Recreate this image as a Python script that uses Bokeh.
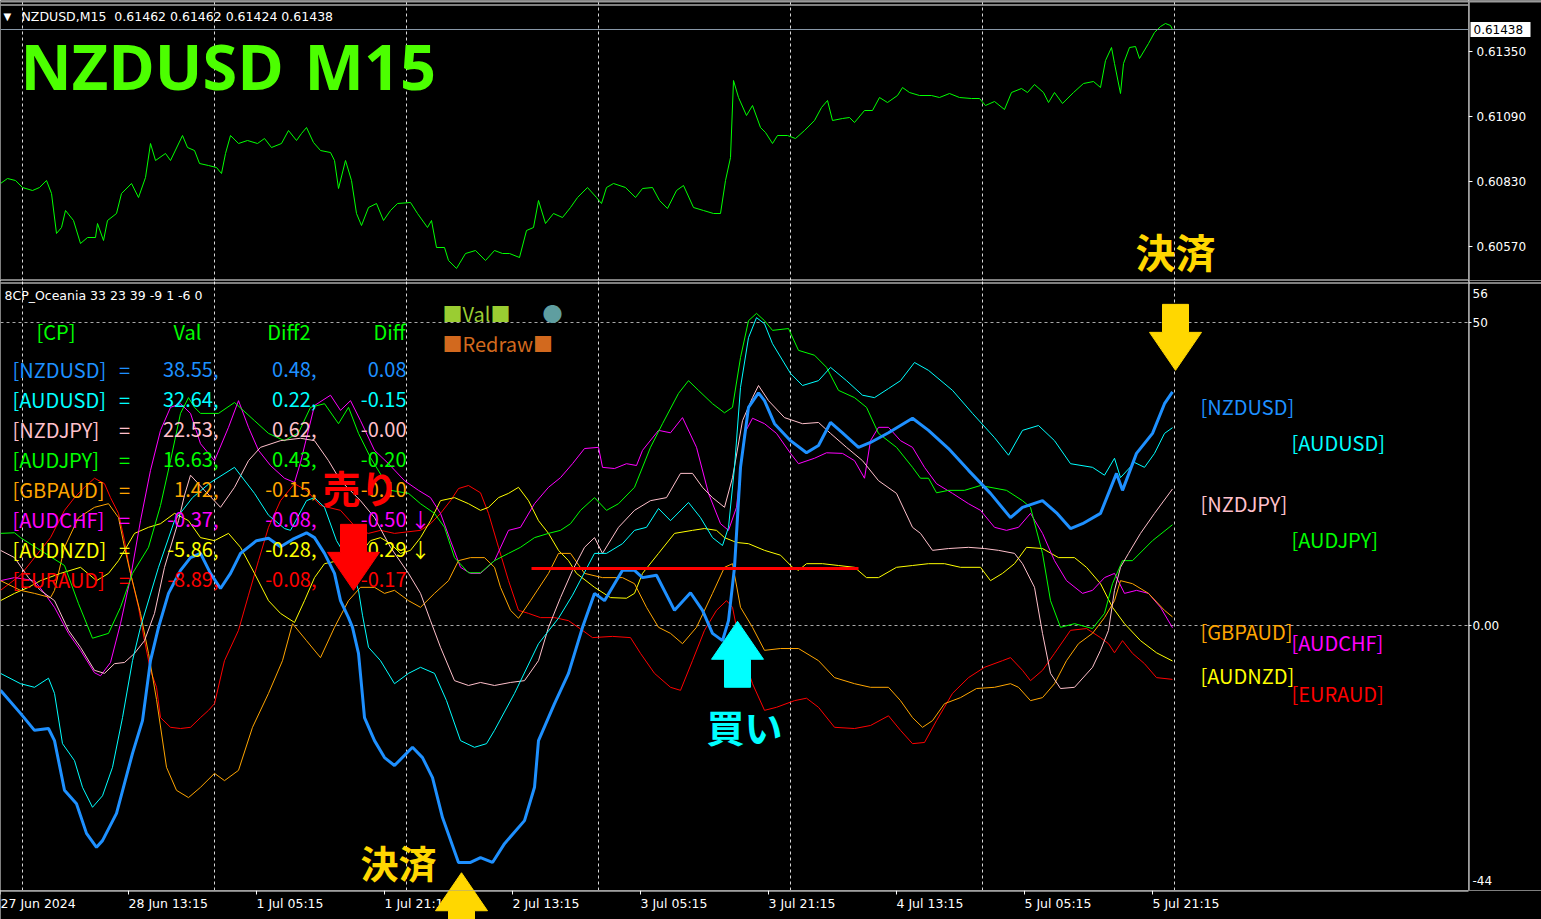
from bokeh.plotting import figure
from bokeh.layouts import column, row
from bokeh.models import Range1d, FixedTicker, Label, Span, Grid
from bokeh.core.properties import value
from bokeh.embed import file_html
from bokeh.resources import INLINE

# ---------------------------------------------------------------- data
SYMBOLS = ["NZDUSD", "AUDUSD", "NZDJPY", "AUDJPY", "GBPAUD", "AUDCHF", "AUDNZD", "EURAUD"]
COLORS = ["#1E90FF", "#00FFFF", "#FFC0CB", "#00FF00", "#FFA500", "#FF00FF", "#FFFF00", "#FF0000"]
VAL = [38.55, 32.64, 22.53, 16.63, 1.42, -0.37, -5.86, -8.89]
DIFF2 = [0.48, 0.22, 0.62, 0.43, -0.15, -0.08, -0.28, -0.08]
DIFF = [0.08, -0.15, -0.00, -0.20, -0.10, -0.50, -0.29, -0.17]
DIFF_MARK = ["", "", "", "", "", "↓", "↓", ""]

TICK_BARS = [0, 64, 128, 192, 256, 320, 384, 448, 512, 576]
TICK_LABELS = ["27 Jun 2024", "28 Jun 13:15", "1 Jul 05:15", "1 Jul 21:15", "2 Jul 13:15",
               "3 Jul 05:15", "3 Jul 21:15", "4 Jul 13:15", "5 Jul 05:15", "5 Jul 21:15"]
DAY_BARS = [11, 107, 203, 299, 395, 491, 587]
PRICE_TICKS = [0.61350, 0.61090, 0.60830, 0.60570]
IND_TICKS = [50, 0]
IND_TICK_LABELS = ["50", "0.00"]
IND_MAX_LABEL, IND_MIN_LABEL = 56, -44
OHLC = [0.61462, 0.61462, 0.61424, 0.61438]

PRICE = [(0, 0.60822), (3.5, 0.60842), (7.5, 0.60834), (11, 0.60806), (16, 0.60794), (19.5, 0.60806),
         (23, 0.60834), (25.5, 0.60782), (28, 0.60622), (30.5, 0.60646), (32.5, 0.60714), (36.5, 0.60674),
         (40, 0.60582), (43.5, 0.60606), (47.5, 0.60606), (48.5, 0.60662), (51.5, 0.60594), (53.5, 0.60674),
         (58, 0.60702), (60.5, 0.60782), (65.5, 0.60822), (69, 0.60766), (72.5, 0.60846), (75, 0.60982),
         (77.5, 0.60914), (82.5, 0.60942), (85, 0.60914), (91, 0.61014), (93.5, 0.60966), (97, 0.60954),
         (99.5, 0.60902), (104, 0.60894), (108, 0.60886), (110.5, 0.60862), (112.5, 0.60942), (115, 0.61014),
         (119, 0.60982), (123.5, 0.60994), (128.5, 0.60982), (132, 0.61002), (135.5, 0.60966), (140.5, 0.60982),
         (144, 0.61034), (148, 0.60994), (150.5, 0.61022), (153, 0.61046), (156.5, 0.60986), (160, 0.60954),
         (165, 0.60946), (167, 0.60914), (169, 0.60802), (172.5, 0.60914), (175.5, 0.60834), (178, 0.60702),
         (180.5, 0.60654), (184, 0.60726), (188, 0.60742), (191.5, 0.60674), (195, 0.60714), (198.5, 0.60742),
         (205, 0.60746), (208.5, 0.60702), (213.5, 0.60646), (215.5, 0.60674), (218, 0.60566), (222, 0.60566),
         (224, 0.60514), (228, 0.60482), (232.5, 0.60542), (237.5, 0.60554), (242.5, 0.60514), (247, 0.60554),
         (251, 0.60542), (254.5, 0.60542), (259.5, 0.60526), (263, 0.60634), (266.5, 0.60646), (269, 0.60754),
         (272.5, 0.60662), (276.5, 0.60702), (281, 0.60686), (285, 0.60726), (288.5, 0.60766), (293.5, 0.60806),
         (298, 0.60766), (300.5, 0.60742), (303, 0.60806), (306.5, 0.60822), (312.5, 0.60806), (317.5, 0.60766),
         (321, 0.60802), (326, 0.60806), (329.5, 0.60754), (333.5, 0.60722), (338, 0.60794), (341.5, 0.60814),
         (346.5, 0.60726), (351.5, 0.60714), (356.5, 0.60702), (360, 0.60702), (362.5, 0.60834), (365, 0.60926),
         (366.5, 0.61234), (369, 0.61166), (373, 0.61094), (376, 0.61134), (380, 0.61046), (382.5, 0.61026),
         (386, 0.60982), (388.5, 0.61014), (393.5, 0.61014), (397.5, 0.61002), (402, 0.61034), (407, 0.61074),
         (410.5, 0.61126), (413.5, 0.61154), (416, 0.61074), (421, 0.61082), (424.5, 0.61086), (427, 0.61066),
         (432, 0.61114), (436, 0.61114), (439.5, 0.61166), (443.5, 0.61146), (448.5, 0.61174), (451, 0.61206),
         (454.5, 0.61186), (459.5, 0.61174), (465.5, 0.61174), (469.5, 0.61166), (474.5, 0.61182), (479.5, 0.61166),
         (485.5, 0.61162), (489.5, 0.61162), (492.5, 0.61134), (497, 0.61150), (502, 0.61118), (505.5, 0.61186),
         (510.5, 0.61202), (513.5, 0.61186), (517, 0.61218), (521.5, 0.61186), (524, 0.61146), (527, 0.61186),
         (531, 0.61142), (536.5, 0.61186), (541.5, 0.61222), (546.5, 0.61230), (550, 0.61206), (552.5, 0.61314),
         (555.5, 0.61366), (557, 0.61302), (560, 0.61182), (561.5, 0.61302), (564.5, 0.61366), (567.5, 0.61370),
         (569.5, 0.61322), (574, 0.61382), (577, 0.61426), (580, 0.61450), (582.5, 0.61462), (585, 0.61454),
         (586, 0.61438)]

NZDUSD = [(0, -10.7), (10, -14.5), (17, -17.3), (24, -17.0), (27, -19.0), (32, -27.2), (38, -29.4), (43, -34.3),
          (48, -36.6), (51, -35.5), (58, -31.0), (66, -21.1), (71, -15.7), (75, -5.8), (79, -0.3), (84, 5.3),
          (90, 9.1), (95, 11.2), (100, 11.9), (105, 8.6), (110, 6.1), (115, 8.6), (120, 11.9), (128, 14.0),
          (134, 14.4), (140, 13.0), (146, 14.2), (153, 15.3), (157, 14.5), (162, 11.9), (167, 8.6), (170, 4.1),
          (174, 1.3), (176, -0.3), (179, -4.6), (181, -11.6), (182, -15.2), (187, -19.0), (192, -21.8),
          (197, -23.1), (206, -20.1), (211, -21.8), (216, -25.1), (221, -31.7), (229, -39.1), (235, -39.1),
          (240, -38.3), (246, -39.1), (252, -36.0), (262, -32.2), (267, -26.7), (269, -19.0), (277, -12.9),
          (284, -7.9), (291, -0.3), (297, 5.3), (302, 4.1), (311, 9.1), (317, 9.1), (321, 7.9), (328, 8.3),
          (337, 2.5), (345, 5.4), (351, 2.5), (356, -1.3), (361, -2.5), (364, 0.8), (367, 9.6), (370, 26.1),
          (374, 36.0), (379, 38.4), (382, 37.1), (387, 33.3), (395, 30.5), (403, 28.5), (409, 29.7), (415, 33.5),
          (421, 31.8), (429, 29.4), (435, 30.2), (444, 31.8), (456, 34.2), (464, 32.2), (474, 29.2), (484, 25.6),
          (495, 21.8), (505, 17.8), (511, 19.5), (521, 20.6), (528, 18.6), (535, 16.0), (541, 16.8), (550, 18.5),
          (554, 21.8), (558, 25.1), (561, 22.3), (568, 28.4), (576, 31.7), (582, 36.6), (586, 38.55)]

AUDUSD = [(0, -7.9), (10, -9.6), (17, -10.2), (24, -8.7), (27, -11.2), (31, -19.5), (37, -22.3), (41, -26.7),
          (46, -30.0), (51, -28.1), (56, -23.4), (61, -15.2), (66, -5.8), (70, -0.3), (79, 9.6), (87, 17.3),
          (96, 21.1), (105, 23.6), (117, 26.1), (127, 21.8), (134, 18.2), (142, 16.0), (145, 15.7), (153, 20.6),
          (157, 21.1), (162, 19.5), (168, 14.0), (174, 10.7), (179, 5.8), (181, 1.7), (184, -3.6), (190, -5.8),
          (197, -9.6), (204, -7.9), (210, -6.9), (217, -7.9), (223, -12.4), (230, -19.0), (237, -20.1),
          (243, -19.5), (247, -17.3), (257, -11.2), (269, -3.0), (279, 1.2), (286, 5.0), (297, 11.9), (303, 11.9),
          (311, 13.5), (317, 15.7), (323, 16.2), (329, 19.3), (335, 17.3), (344, 20.3), (350, 17.8), (356, 14.5),
          (361, 13.2), (364, 16.2), (367, 26.1), (370, 39.3), (374, 47.5), (378, 50.8), (382, 49.8), (386, 46.5),
          (395, 41.6), (401, 39.6), (409, 40.4), (415, 42.6), (423, 40.4), (431, 38.0), (437, 37.6), (444, 39.1),
          (450, 40.4), (457, 43.4), (464, 42.1), (476, 38.8), (486, 35.0), (497, 31.0), (504, 28.1), (511, 32.2),
          (519, 33.0), (527, 30.5), (535, 26.7), (546, 26.1), (552, 24.8), (557, 27.6), (560, 24.4), (567, 26.9),
          (572, 26.1), (577, 28.4), (582, 31.7), (586, 32.64)]

NZDJPY = [(0, 12.4), (7, 11.2), (14, 7.9), (20, 5.8), (27, 4.1), (34, -0.8), (40, -3.6), (47, -7.4), (52, -7.9),
          (57, -6.3), (62, -6.1), (67, -4.6), (72, -2.5), (77, 2.0), (82, 9.6), (89, 17.3), (92, 21.5), (95, 24.8),
          (102, 22.3), (110, 19.5), (117, 22.8), (124, 27.2), (130, 29.4), (140, 30.5), (150, 30.9), (157, 30.5),
          (164, 27.2), (170, 23.9), (180, 20.6), (187, 17.8), (195, 12.9), (204, 8.6), (210, 5.3), (215, 0.8),
          (220, -3.6), (227, -9.1), (234, -9.9), (240, -9.4), (247, -9.9), (255, -9.4), (262, -9.1), (269, -5.8),
          (274, -0.3), (280, 4.6), (286, 9.1), (292, 12.9), (297, 14.5), (301, 11.9), (309, 16.2), (317, 19.0),
          (325, 20.6), (333, 21.1), (340, 25.1), (346, 25.1), (351, 22.8), (356, 21.1), (362, 19.5), (366, 24.4),
          (371, 33.8), (376, 37.6), (379, 39.6), (384, 37.1), (392, 34.3), (401, 33.3), (409, 33.5), (415, 31.7),
          (423, 29.4), (431, 27.2), (439, 23.9), (448, 21.8), (456, 16.2), (460, 15.2), (466, 12.4), (474, 12.7),
          (484, 12.9), (492, 12.7), (499, 12.4), (507, 11.9), (511, 10.2), (517, 6.3), (521, -1.3), (525, -7.9),
          (530, -10.4), (537, -10.2), (546, -6.9), (550, -4.1), (554, -0.8), (557, 5.8), (560, 9.6), (564, 11.9),
          (570, 15.2), (577, 18.5), (586, 22.53)]

AUDJPY = [(0, 15.2), (7, 15.3), (10, 14.5), (20, 12.4), (32, 9.9), (39, 3.6), (46, -2.1), (54, -1.3), (60, 3.0),
          (66, 8.6), (74, 12.9), (80, 19.8), (85, 27.2), (90, 35.0), (94, 37.6), (97, 36.0), (100, 35.0),
          (109, 35.0), (117, 36.8), (127, 33.8), (134, 31.7), (142, 30.5), (149, 31.8), (155, 36.0), (162, 36.6),
          (169, 33.3), (174, 36.0), (179, 31.7), (185, 27.7), (195, 22.3), (204, 21.8), (210, 20.1), (217, 18.5),
          (222, 16.2), (227, 11.2), (234, 8.7), (240, 8.7), (247, 10.7), (254, 11.9), (260, 12.9), (267, 14.5),
          (274, 15.2), (280, 15.7), (285, 16.8), (290, 19.0), (297, 21.1), (303, 19.0), (309, 20.1), (317, 22.8),
          (325, 29.4), (331, 33.3), (339, 38.3), (344, 40.4), (349, 38.8), (356, 36.6), (362, 35.1), (366, 36.0),
          (370, 44.2), (374, 50.3), (378, 51.5), (382, 50.3), (386, 48.7), (394, 49.0), (399, 45.4), (407, 44.6),
          (413, 42.6), (419, 38.8), (427, 37.6), (433, 36.0), (439, 31.7), (448, 29.4), (456, 26.1), (460, 24.3),
          (464, 24.3), (468, 21.9), (474, 22.3), (482, 22.3), (490, 23.1), (503, 22.3), (511, 20.6), (515, 19.5),
          (521, 11.9), (525, 4.1), (530, -0.3), (537, 0.3), (546, -0.5), (552, 2.0), (556, 6.9), (561, 10.7),
          (566, 10.7), (576, 14.0), (586, 16.63)]

GBPAUD = [(0, 7.4), (10, 5.8), (17, 5.3), (25, 4.6), (27, 5.8), (32, 12.9), (39, 17.8), (47, 19.5), (54, 20.1),
          (59, 17.8), (62, 12.9), (65, 8.6), (70, 2.0), (74, -4.6), (78, -12.2), (83, -23.4), (88, -27.2),
          (94, -28.4), (100, -26.7), (107, -24.4), (112, -25.6), (119, -23.9), (126, -16.8), (134, -11.2),
          (141, -5.8), (146, 0.3), (153, -2.5), (160, -5.3), (167, -0.3), (174, 4.1), (180, 6.3), (187, 6.3),
          (192, 5.3), (197, 5.8), (204, 4.1), (210, 3.0), (217, 5.3), (224, 7.4), (229, 10.7), (235, 11.2),
          (242, 11.2), (247, 9.6), (250, 6.3), (255, 2.5), (259, 1.2), (265, 4.1), (274, 8.6), (279, 11.9),
          (285, 11.9), (292, 8.6), (301, 7.9), (311, 7.9), (317, 6.9), (323, 3.0), (329, -0.3), (335, -1.3),
          (341, -3.0), (348, -0.3), (356, 5.3), (362, 9.6), (366, 10.2), (370, 3.0), (376, -0.3), (382, -4.1),
          (390, -3.8), (399, -3.8), (409, -5.8), (417, -8.6), (427, -9.6), (435, -10.2), (444, -10.2),
          (450, -12.4), (456, -15.2), (461, -16.8), (466, -15.7), (472, -12.9), (480, -11.9), (488, -10.4),
          (497, -10.2), (505, -9.6), (509, -10.2), (515, -12.4), (521, -11.9), (527, -9.6), (533, -5.8),
          (539, -3.0), (546, -1.3), (552, 1.3), (557, 4.1), (560, 7.4), (566, 6.9), (574, 5.3), (582, 2.5),
          (586, 1.42)]

AUDCHF = [(0, 7.4), (7, 7.9), (17, 7.4), (22, 5.3), (27, 3.0), (34, -1.3), (40, -4.1), (47, -7.8), (50, -8.3),
          (55, -6.1), (60, 0.3), (65, 7.9), (70, 17.3), (75, 25.6), (80, 32.2), (85, 36.0), (90, 36.6), (95, 35.0),
          (100, 30.0), (107, 27.2), (114, 32.7), (119, 37.1), (124, 32.7), (129, 28.9), (135, 26.4), (142, 24.3),
          (147, 23.6), (150, 26.9), (157, 36.3), (165, 38.0), (170, 35.5), (175, 37.1), (180, 33.8), (187, 28.9),
          (194, 26.7), (202, 23.9), (209, 22.3), (215, 21.1), (220, 18.5), (225, 14.0), (230, 9.6), (235, 8.6),
          (240, 8.6), (247, 10.7), (254, 15.7), (260, 16.2), (267, 20.1), (274, 22.8), (280, 24.4), (286, 26.7),
          (292, 29.2), (299, 29.4), (301, 26.1), (307, 25.9), (313, 26.7), (318, 26.4), (321, 28.9), (329, 32.2),
          (335, 31.8), (341, 34.3), (348, 29.4), (354, 21.8), (360, 16.8), (364, 15.7), (368, 19.5), (372, 31.7),
          (376, 34.2), (382, 33.3), (388, 31.7), (395, 28.4), (399, 26.7), (407, 27.6), (413, 28.5), (421, 28.4),
          (427, 27.2), (432, 24.3), (435, 30.5), (439, 32.7), (444, 32.7), (450, 30.5), (456, 29.4), (462, 26.1),
          (468, 23.4), (476, 21.8), (484, 20.1), (490, 19.0), (497, 16.2), (503, 15.7), (509, 16.2), (515, 18.5),
          (521, 15.2), (527, 10.7), (533, 7.4), (541, 5.3), (546, 5.8), (552, 7.9), (557, 8.6), (562, 5.3),
          (568, 5.8), (574, 5.3), (580, 3.0), (586, -0.37)]

AUDNZD = [(0, 4.1), (7, 5.3), (14, 6.3), (20, 7.4), (30, 8.6), (40, 9.6), (48, 7.4), (54, 8.6), (59, 10.7),
          (67, 15.2), (74, 16.2), (80, 16.8), (87, 18.5), (94, 17.3), (100, 14.5), (107, 14.0), (114, 15.2),
          (120, 12.9), (127, 8.6), (134, 4.1), (140, 2.0), (147, 0.5), (152, 4.1), (157, 7.9), (162, 10.2),
          (169, 10.7), (174, 9.6), (180, 11.9), (185, 14.0), (190, 14.5), (195, 13.5), (200, 11.9), (205, 12.4),
          (210, 14.5), (215, 17.3), (220, 20.6), (227, 21.1), (234, 20.1), (240, 19.0), (244, 19.5), (249, 21.1),
          (254, 21.8), (259, 22.8), (264, 20.6), (269, 17.3), (274, 15.2), (279, 12.4), (284, 10.7), (288, 8.6),
          (297, 6.3), (305, 4.6), (313, 4.5), (317, 5.3), (321, 8.6), (329, 11.9), (337, 15.2), (346, 15.7),
          (352, 16.0), (358, 15.7), (362, 14.5), (368, 13.7), (374, 13.5), (382, 12.4), (390, 11.6), (396, 9.6),
          (399, 9.1), (403, 10.2), (411, 10.2), (419, 9.9), (427, 9.6), (433, 7.9), (439, 7.9), (448, 9.6),
          (456, 9.9), (464, 10.2), (472, 10.2), (480, 9.6), (490, 9.6), (495, 7.4), (501, 8.6), (507, 10.2),
          (513, 12.9), (521, 12.7), (529, 11.2), (537, 11.2), (543, 9.6), (550, 6.9), (556, 3.0), (562, 0.3),
          (570, -2.5), (578, -4.5), (586, -5.86)]

EURAUD = [(0, 5.8), (10, 8.3), (25, 14.5), (32, 19.0), (37, 21.1), (42, 22.8), (47, 24.3), (52, 23.4), (55, 21.1),
          (59, 18.5), (62, 14.0), (65, 8.6), (69, 3.0), (72, -2.5), (75, -7.4), (78, -10.2), (80, -15.2),
          (85, -16.8), (90, -17.0), (95, -16.8), (100, -15.2), (104, -14.0), (107, -12.9), (112, -5.8),
          (119, -0.8), (124, 5.0), (129, 10.7), (134, 16.2), (140, 20.6), (147, 23.4), (153, 22.3), (160, 19.8),
          (170, 19.0), (179, 15.7), (184, 15.2), (190, 15.7), (197, 15.2), (210, 15.7), (215, 16.8), (220, 18.5),
          (225, 20.6), (229, 22.6), (234, 23.1), (240, 21.9), (244, 18.5), (249, 12.9), (254, 7.4), (259, 2.5),
          (264, 2.0), (270, 1.3), (277, 1.3), (284, 0.8), (291, -0.8), (296, -2.0), (306, -1.8), (315, -2.0),
          (320, -4.6), (327, -7.9), (335, -10.2), (340, -10.7), (346, -5.8), (352, -0.8), (358, 2.5), (363, 4.1),
          (366, 3.0), (370, -3.6), (376, -9.6), (382, -14.0), (388, -13.5), (397, -12.4), (403, -12.0),
          (409, -13.5), (417, -16.8), (427, -17.0), (435, -16.5), (444, -14.9), (450, -17.3), (456, -19.5),
          (462, -19.3), (468, -15.7), (476, -11.2), (484, -8.6), (492, -6.9), (501, -5.8), (505, -5.3),
          (511, -7.4), (515, -9.1), (521, -7.4), (527, -4.6), (535, -0.8), (543, -0.5), (550, -2.0), (554, -3.0),
          (557, -4.5), (561, -2.5), (566, -4.6), (572, -6.3), (578, -8.6), (586, -8.89)]

SERIES = [NZDUSD, AUDUSD, NZDJPY, AUDJPY, GBPAUD, AUDCHF, AUDNZD, EURAUD]
LINE_WIDTHS = [3, 1, 1, 1, 1, 1, 1, 1]

# trade signals: bar, arrow tip level, direction, colour
SIGNAL_BARS = [176.5, 230.5, 368.5, 587.5]
SIGNAL_LEVELS = [5.8, -40.8, 0.7, 42.1]
SIGNAL_DIRS = ["down", "up", "up", "down"]
SIGNAL_COLORS = ["#FF0000", "#FFD700", "#00FFFF", "#FFD700"]
LEVEL_LINE = dict(start=265.5, end=429, level=9.4)

# ---------------------------------------------------------------- geometry (page pixels)
MAIN_W, SIDE_W = 1468, 73
TOP_H, BOT_H, AXIS_H = 280, 610, 29
PX_PER_BAR = 2.0
TOP_MIN, TOP_MAX = 0.60434, 0.61554
BOT_MIN, BOT_MAX = -43.73, 56.93
BOT_Y0 = TOP_H
AXIS_Y0 = TOP_H + BOT_H


def bx(px):
    return px / PX_PER_BAR


def page_x(bar):
    return bar * PX_PER_BAR


def ty(py):
    return TOP_MAX - py * (TOP_MAX - TOP_MIN) / TOP_H


def vy(py):
    return BOT_MAX - (py - BOT_Y0) * (BOT_MAX - BOT_MIN) / BOT_H


def page_y_bot(v):
    return BOT_Y0 + (BOT_MAX - v) * BOT_H / (BOT_MAX - BOT_MIN)


def ay(py):
    return AXIS_Y0 + AXIS_H - py


MONO = "Noto Sans CJK JP"
CJK = "Noto Sans CJK JP"
UI = "DejaVu Sans"
GRID_V = "#d8d8d8"
GRID_H = "#a8a8a8"

x_range = Range1d(0, MAIN_W / PX_PER_BAR)
top_yr = Range1d(TOP_MIN, TOP_MAX)
bot_yr = Range1d(BOT_MIN, BOT_MAX)


def fig(w, h, xr, yr):
    f = figure(frame_width=w, frame_height=h, x_range=xr, y_range=yr,
               output_backend="svg", toolbar_location=None, title=None,
               min_border_left=0, min_border_top=0, min_border_bottom=0, min_border_right=0,
               background_fill_color="black", border_fill_color="black", outline_line_color=None,
               x_axis_location=None, y_axis_location=None)
    for g in f.grid:
        g.visible = False
    return f


def arrow_px(tip_x, tip_y, direction):
    hw, hl, sw, sl = 26, 38, 13, 28
    s = 1 if direction == "down" else -1
    pts = [(0, 0), (hw, -s * hl), (sw, -s * hl), (sw, -s * (hl + sl)),
           (-sw, -s * (hl + sl)), (-sw, -s * hl), (-hw, -s * hl)]
    return [tip_x + dx for dx, dy in pts], [tip_y + dy for dx, dy in pts]


def side_text(f, ys, texts, x=8, color="white"):
    f.text(x=[x] * len(ys), y=ys, text=texts, text_color=color, text_font=value(UI),
           text_font_size="12px", text_align="left", text_baseline="middle")

# ---------------------------------------------------------------- top panel (price)
top = fig(MAIN_W, TOP_H, x_range, top_yr)
top.add_layout(Grid(dimension=0, ticker=FixedTicker(ticks=DAY_BARS), grid_line_color=GRID_V,
                    grid_line_dash="3 3", grid_line_width=1))
pb, pv = zip(*PRICE)
top.line(list(pb), list(pv), line_color="#00FF00", line_width=1)
top.add_layout(Span(location=pv[-1], dimension="width", line_color="#8898a8", line_width=1))
top.add_layout(Span(location=ty(1), dimension="width", line_color="#9a9a9a", line_width=2))
top.add_layout(Span(location=ty(4.5), dimension="width", line_color="white", line_width=1))
top.add_layout(Span(location=ty(279.5), dimension="width", line_color="white", line_width=1))
top.add_layout(Label(x=bx(3), y=ty(16), text="▼", text_color="white", text_font=UI,
                     text_font_size="10px", text_baseline="middle"))
top.add_layout(Label(x=bx(21), y=ty(16),
                     text="NZDUSD,M15\u00a0 " + " ".join("%.5f" % v for v in OHLC),
                     text_color="white", text_font=UI, text_font_size="12.5px", text_baseline="middle"))
for word, left in (("NZDUSD", 20), ("M15", 304)):
    top.add_layout(Label(x=bx(left), y=ty(65), text=word, text_color="#4CFF00",
                         text_font="Open Sans", text_font_style="bold", text_font_size="63px",
                         text_baseline="middle"))
top.text(x=[SIGNAL_BARS[3]], y=[ty(250)], text=["決済"], text_color="#FFD700",
         text_font=value(CJK), text_font_style="bold", text_font_size="40px",
         text_align="center", text_baseline="middle")

# price scale at the right
top_r = fig(SIDE_W, TOP_H, Range1d(0, SIDE_W), top_yr)
top_r.add_layout(Span(location=0.5, dimension="height", line_color="white", line_width=1))
top_r.add_layout(Span(location=ty(1), dimension="width", line_color="#9a9a9a", line_width=2))
top_r.segment(x0=[0] * len(PRICE_TICKS), y0=PRICE_TICKS, x1=[4] * len(PRICE_TICKS), y1=PRICE_TICKS,
              line_color="white", line_width=1)
side_text(top_r, PRICE_TICKS, ["%.5f" % t for t in PRICE_TICKS])
half = 7.5 * (TOP_MAX - TOP_MIN) / TOP_H
top_r.quad(left=[2], right=[62], bottom=[pv[-1] - half], top=[pv[-1] + half],
           fill_color="white", line_color=None)
side_text(top_r, [pv[-1]], ["%.5f" % pv[-1]], x=5, color="black")

# ---------------------------------------------------------------- bottom panel (indicator)
bot = fig(MAIN_W, BOT_H, x_range, bot_yr)
bot.add_layout(Grid(dimension=0, ticker=FixedTicker(ticks=DAY_BARS), grid_line_color=GRID_V,
                    grid_line_dash="3 3", grid_line_width=1))
bot.add_layout(Grid(dimension=1, ticker=FixedTicker(ticks=IND_TICKS), grid_line_color=GRID_H,
                    grid_line_dash="3 3", grid_line_width=1))
bot.add_layout(Span(location=vy(282.5), dimension="width", line_color="white", line_width=1))

for data, col, w in zip(SERIES[::-1], COLORS[::-1], LINE_WIDTHS[::-1]):
    b, v = zip(*data)
    bot.line(list(b), list(v), line_color=col, line_width=w)

bot.segment(x0=[LEVEL_LINE["start"]], y0=[LEVEL_LINE["level"]], x1=[LEVEL_LINE["end"]],
            y1=[LEVEL_LINE["level"]], line_color="#FF0000", line_width=3)

bot.text(x=[bx(4)], y=[vy(295)], text=["8CP_Oceania 33 23 39 -9 1 -6 0"], text_color="white",
         text_font=value(UI), text_font_size="12.5px", text_align="left", text_baseline="middle")

# table
HDR = "#00FF00"
row_y = [vy(369 + 30 * k) for k in range(len(SYMBOLS))]
tkw = dict(text_font=value(MONO), text_font_size="20px", text_baseline="middle")
bot.text(x=[bx(36)], y=[vy(331)], text=["[CP]"], text_color=HDR, text_align="left", **tkw)
bot.text(x=[bx(201), bx(310), bx(405)], y=[vy(331)] * 3, text=["Val", "Diff2", "Diff"],
         text_color=HDR, text_align="right", **tkw)
bot.text(x=[bx(12)] * 8, y=row_y, text=["[%s]" % s for s in SYMBOLS], text_color=COLORS,
         text_align="left", **tkw)
bot.text(x=[bx(124)] * 8, y=row_y, text=["="] * 8, text_color=COLORS, text_align="center", **tkw)
bot.text(x=[bx(218)] * 8, y=row_y, text=["%.2f," % v for v in VAL], text_color=COLORS,
         text_align="right", **tkw)
bot.text(x=[bx(316)] * 8, y=row_y, text=["%.2f," % v for v in DIFF2], text_color=COLORS,
         text_align="right", **tkw)
bot.text(x=[bx(406)] * 8, y=row_y, text=["%.2f" % v for v in DIFF], text_color=COLORS,
         text_align="right", **tkw)
bot.text(x=[bx(410)] * 8, y=row_y, text=DIFF_MARK, text_color=COLORS, text_align="left", **tkw)

# buttons
bot.text(x=[bx(442)], y=[vy(313)], text=["■Val■"], text_color="#9ACD32", text_align="left", **tkw)
bot.text(x=[bx(552)], y=[vy(313)], text=["●"], text_color="#5F9EA0", text_align="center",
         text_font=value(CJK), text_font_size="20px", text_baseline="middle")
bot.text(x=[bx(442)], y=[vy(343)], text=["■Redraw■"], text_color="#D2691E", text_align="left", **tkw)

# pair names next to their last value
lx = [bx(1200) if k % 2 == 0 else bx(1291) for k in range(len(SYMBOLS))]
bot.text(x=lx, y=[s[-1][1] for s in SERIES], text=["[%s]" % s for s in SYMBOLS], text_color=COLORS,
         text_font=value(MONO), text_font_size="20px", text_baseline="top", text_align="left")

# signal captions
cap_kw = dict(text_font=value(CJK), text_font_style="bold", text_align="center", text_baseline="middle")
bot.text(x=[bx(360)], y=[vy(486)], text=["売り"], text_color="#FF0000", text_font_size="38px", **cap_kw)
bot.text(x=[bx(744)], y=[vy(725)], text=["買い"], text_color="#00FFFF", text_font_size="38px", **cap_kw)
bot.text(x=[bx(398)], y=[vy(861)], text=["決済"], text_color="#FFD700", text_font_size="38px", **cap_kw)

# indicator scale at the right
bot_r = fig(SIDE_W, BOT_H, Range1d(0, SIDE_W), bot_yr)
bot_r.add_layout(Span(location=0.5, dimension="height", line_color="white", line_width=1))
bot_r.add_layout(Span(location=vy(282.5), dimension="width", line_color="white", line_width=1))
bot_r.segment(x0=[0] * len(IND_TICKS), y0=IND_TICKS, x1=[3] * len(IND_TICKS), y1=IND_TICKS,
              line_color="white", line_width=1)
side_text(bot_r, IND_TICKS, IND_TICK_LABELS, x=4)
side_text(bot_r, [vy(page_y_bot(IND_MAX_LABEL) + 7), vy(page_y_bot(IND_MIN_LABEL) - 12)],
          [str(IND_MAX_LABEL), str(IND_MIN_LABEL)], x=4)

# ---------------------------------------------------------------- time axis strip
axis_fig = fig(MAIN_W + SIDE_W, AXIS_H, Range1d(0, (MAIN_W + SIDE_W) / PX_PER_BAR), Range1d(0, AXIS_H))
axis_fig.segment(x0=[0], y0=[AXIS_H - 0.5], x1=[MAIN_W / PX_PER_BAR], y1=[AXIS_H - 0.5],
                 line_color="white", line_width=1)
axis_fig.segment(x0=TICK_BARS, y0=[AXIS_H] * len(TICK_BARS), x1=TICK_BARS,
                 y1=[AXIS_H - 4] * len(TICK_BARS), line_color="white", line_width=1)
axis_fig.text(x=TICK_BARS, y=[ay(903)] * len(TICK_BARS), text=TICK_LABELS,
              text_color="white", text_font=value(UI), text_font_size="12.5px",
              text_align="left", text_baseline="middle")

# signal arrows (drawn in the indicator panel and continued into the time strip)
for b, lvl, d, c in zip(SIGNAL_BARS, SIGNAL_LEVELS, SIGNAL_DIRS, SIGNAL_COLORS):
    xs, ys = arrow_px(page_x(b), page_y_bot(lvl), d)
    bot.patch([bx(x) for x in xs], [vy(y) for y in ys], fill_color=c, line_color=c, line_width=1)
    axis_fig.patch([bx(x) for x in xs], [ay(y) for y in ys], fill_color=c, line_color=c, line_width=1)

layout = column(row(top, top_r, spacing=0), row(bot, bot_r, spacing=0), axis_fig, spacing=0)
open("out.html", "w").write(file_html(layout, INLINE))
